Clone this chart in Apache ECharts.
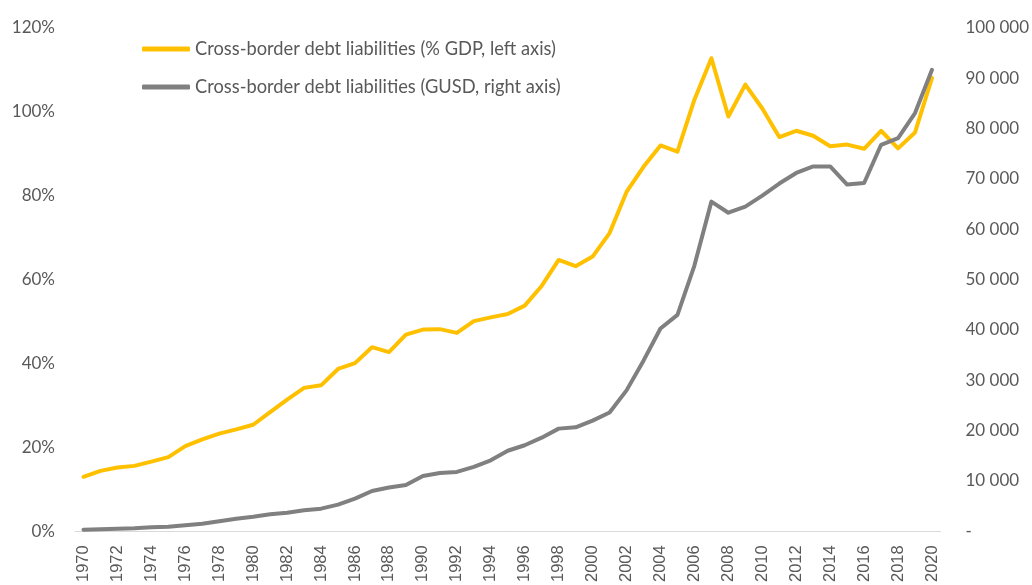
<!DOCTYPE html>
<html>
<head>
<meta charset="utf-8">
<script src="https://cdn.jsdelivr.net/npm/echarts@6/dist/echarts.min.js"></script>
<style>html,body{margin:0;padding:0;background:#fff}#c{width:1032px;height:585px}</style>
</head>
<body>
<div id="c"></div>
<script>
const years = [];
for (let y = 1970; y <= 2020; y++) years.push(String(y));

const seriesNames = [
  'Cross-border debt liabilities (% GDP, left axis)',
  'Cross-border debt liabilities (GUSD, right axis)'
];

const pctGDP = [
  13.0, 14.4, 15.2, 15.6, 16.6, 17.7, 20.3, 21.9, 23.3, 24.3,
  25.4, 28.4, 31.4, 34.2, 34.8, 38.7, 40.1, 43.9, 42.7, 46.9,
  48.1, 48.2, 47.3, 50.1, 51.0, 51.8, 53.8, 58.5, 64.7, 63.2,
  65.5, 71.1, 80.9, 86.9, 92.0, 90.5, 102.9, 112.8, 98.9, 106.5,
  100.8, 94.0, 95.5, 94.3, 91.8, 92.2, 91.2, 95.5, 91.3, 95.1,
  108.1
];

const gusd = [
  300, 400, 500, 600, 800, 900, 1200, 1500, 2000, 2500,
  2900, 3400, 3700, 4200, 4500, 5300, 6500, 8000, 8700, 9200,
  11000, 11600, 11800, 12800, 14100, 16000, 17100, 18600, 20400, 20650,
  22000, 23600, 28000, 33900, 40300, 43000, 52800, 65500, 63300, 64500,
  66700, 69100, 71200, 72500, 72500, 68900, 69200, 76800, 78100, 83100,
  91700
];

const leftTicks = { min: 0, max: 120, interval: 20 };
const rightTicks = { min: 0, max: 100000, interval: 10000 };

const chart = echarts.init(document.getElementById('c'), null, { renderer: 'canvas' });
const txt = '#595959';
const font = 'Lato, "Open Sans", sans-serif';

chart.setOption({
  animation: false,
  backgroundColor: '#fff',
  grid: { left: 75, right: 89, top: 28, bottom: 52, containLabel: false },
  legend: {
    orient: 'vertical',
    left: 137,
    top: 35,
    itemGap: 20,
    itemWidth: 48,
    itemHeight: 5,
    icon: 'roundRect',
    textStyle: { color: txt, fontSize: 18.3, fontFamily: font },
    data: seriesNames
  },
  xAxis: {
    type: 'category',
    data: years,
    boundaryGap: true,
    axisLine: { lineStyle: { color: '#d9d9d9', width: 1 } },
    axisTick: { show: false },
    axisLabel: {
      interval: 1,
      rotate: 90,
      color: txt,
      fontSize: 16.5,
      fontFamily: '"Liberation Sans", Arial, sans-serif',
      margin: 14
    },
    splitLine: { show: false }
  },
  yAxis: [
    {
      type: 'value',
      min: leftTicks.min, max: leftTicks.max, interval: leftTicks.interval,
      axisLine: { show: false },
      axisTick: { show: false },
      splitLine: { show: false },
      axisLabel: {
        color: txt, fontSize: 17, fontFamily: font, margin: 20,
        formatter: v => v + '%'
      }
    },
    {
      type: 'value',
      min: rightTicks.min, max: rightTicks.max, interval: rightTicks.interval,
      axisLine: { show: false },
      axisTick: { show: false },
      splitLine: { show: false },
      axisLabel: {
        color: txt, fontSize: 17, fontFamily: font, margin: 25,
        formatter: v => v === 0 ? '-' : String(v).replace(/\B(?=(\d{3})+(?!\d))/g, ' ')
      }
    }
  ],
  series: [
    {
      name: seriesNames[0],
      type: 'line',
      yAxisIndex: 0,
      data: pctGDP,
      symbol: 'none',
      lineStyle: { color: '#FFC000', width: 4, cap: 'round', join: 'round' },
      itemStyle: { color: '#FFC000' },
      z: 2
    },
    {
      name: seriesNames[1],
      type: 'line',
      yAxisIndex: 1,
      data: gusd,
      symbol: 'none',
      lineStyle: { color: '#808080', width: 4, cap: 'round', join: 'round' },
      itemStyle: { color: '#808080' },
      z: 3
    }
  ]
});
</script>
</body>
</html>
